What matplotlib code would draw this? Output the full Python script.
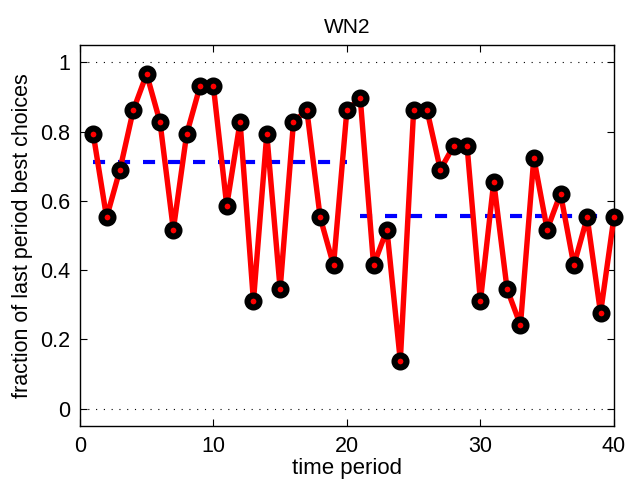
import matplotlib
matplotlib.use("Agg")
import matplotlib.pyplot as plt

plt.rcParams['font.family'] = ['Liberation Sans', 'DejaVu Sans']

# data
periods = list(range(1, 41))
best_frac = [0.793, 0.552, 0.690, 0.862, 0.966, 0.828, 0.517, 0.793, 0.931, 0.931,
             0.586, 0.828, 0.310, 0.793, 0.345, 0.828, 0.862, 0.552, 0.414, 0.862,
             0.897, 0.414, 0.517, 0.138, 0.862, 0.862, 0.690, 0.759, 0.759, 0.310,
             0.655, 0.345, 0.241, 0.724, 0.517, 0.621, 0.414, 0.552, 0.276, 0.552]
half_start = [1, 21]
half_end = [20, 40]
half_mean = [0.712, 0.555]

fig = plt.figure(figsize=(6.29, 4.84), dpi=100)
ax = fig.add_axes([0.127, 0.120, 0.849, 0.787])

ax.axhline(0, color='k', ls=(0, (1, 6)), lw=0.8, zorder=1)
ax.axhline(1, color='k', ls=(0, (1, 6)), lw=0.8, zorder=1)

for s, e, m in zip(half_start, half_end, half_mean):
    ax.plot([s, e], [m, m], color='b', ls='--', lw=3.0, dashes=(2.9, 3.1), zorder=2)

ax.plot(periods, best_frac, color='r', lw=3.9, marker='o', ms=8.6,
        mfc='r', mec='k', mew=4.4, zorder=3, clip_on=False)

ax.set_xlim(0, 40)
ax.set_ylim(-0.05, 1.05)
ax.set_xticks([0, 10, 20, 30, 40])
ax.set_yticks([0, 0.2, 0.4, 0.6, 0.8, 1])
ax.set_yticklabels(['0', '0.2', '0.4', '0.6', '0.8', '1'])
ax.tick_params(direction='in', top=True, right=True, length=5, width=0.8,
               labelsize=15.5, pad=7)
for sp in ax.spines.values():
    sp.set_linewidth(1.0)

ax.set_title('WN2', fontsize=15, pad=9)
ax.set_xlabel('time period', fontsize=16, labelpad=1)
ax.set_ylabel('fraction of last period best choices', fontsize=15.5, labelpad=5)

fig.savefig('out.png', dpi=100)
